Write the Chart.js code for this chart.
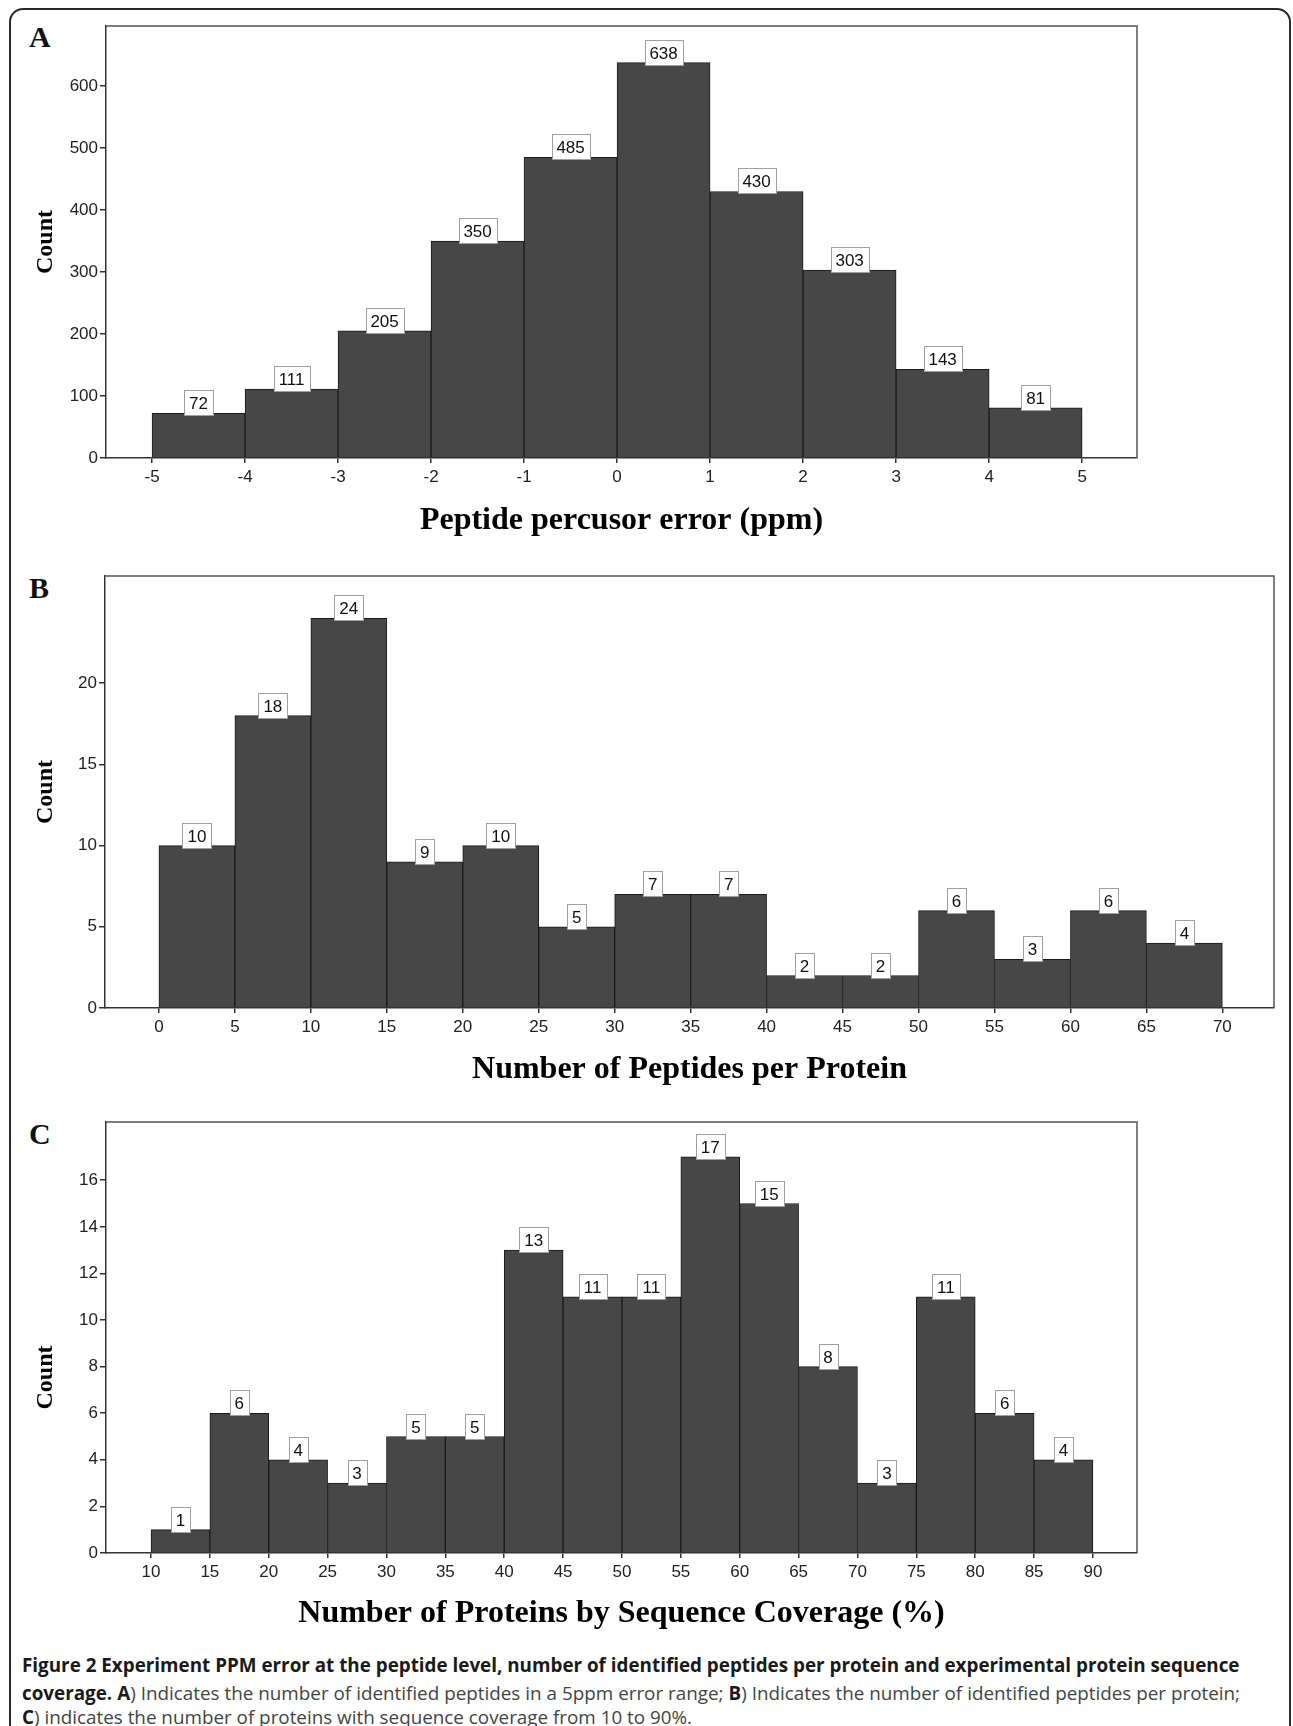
<!DOCTYPE html>
<html lang="en">
<head>
<meta charset="UTF-8">
<title>Figure 2</title>
<script src="https://cdn.jsdelivr.net/npm/chart.js@4.4.0/dist/chart.umd.min.js"></script>
<style>
  body { margin: 0; background: #fff; width: 1293px; height: 1726px; overflow: hidden; position: relative; }
  .frame { position: absolute; left: 9px; top: 8px; width: 1282px; height: 1800px; box-sizing: border-box;
           border: 2px solid #2a2a2a; border-radius: 14px; }
  canvas { position: absolute; left: 0; }
  .letter { position: absolute; left: 29px; font: bold 30px "Liberation Serif", "Times New Roman", serif;
            line-height: 30px; color: #111; }
  .cap { position: absolute; left: 22px; white-space: nowrap; font-family: "Open Sans", sans-serif;
         line-height: 28px; color: #444; }
  .cap b { color: #1a1a1a; font-weight: 700; }
</style>
</head>
<body>
<div class="frame"></div>

<div class="letter" style="top:22px">A</div>
<div class="letter" style="top:573px">B</div>
<div class="letter" style="top:1119px">C</div>

<canvas id="chartA" width="1293" height="550" style="top:0"></canvas>
<canvas id="chartB" width="1293" height="550" style="top:550px"></canvas>
<canvas id="chartC" width="1293" height="550" style="top:1100px"></canvas>

<div class="cap" id="cap1" style="top:1651px"><b>Figure 2 Experiment PPM error at the peptide level, number of identified peptides per protein and experimental protein sequence</b></div>
<div class="cap" id="cap2" style="top:1679px"><b>coverage. A</b>) Indicates the number of identified peptides in a 5ppm error range; <b>B</b>) Indicates the number of identified peptides per protein;</div>
<div class="cap" id="cap3" style="top:1703px"><b>C</b>) indicates the number of proteins with sequence coverage from 10 to 90%.</div>

<script>
// A: peptide precursor error (ppm)
const ppmEdges = [-5, -4, -3, -2, -1, 0, 1, 2, 3, 4, 5];
const ppmCounts = [72, 111, 205, 350, 485, 638, 430, 303, 143, 81];
const ppmYTicks = [0, 100, 200, 300, 400, 500, 600];

// B: peptides per protein
const pepEdges = [0, 5, 10, 15, 20, 25, 30, 35, 40, 45, 50, 55, 60, 65, 70];
const pepCounts = [10, 18, 24, 9, 10, 5, 7, 7, 2, 2, 6, 3, 6, 4];
const pepYTicks = [0, 5, 10, 15, 20];

// C: sequence coverage (%)
const covEdges = [10, 15, 20, 25, 30, 35, 40, 45, 50, 55, 60, 65, 70, 75, 80, 85, 90];
const covCounts = [1, 6, 4, 3, 5, 5, 13, 11, 11, 17, 15, 8, 3, 11, 6, 4];
const covYTicks = [0, 2, 4, 6, 8, 10, 12, 14, 16];

const tickFont = { family: '"Liberation Sans", Arial, sans-serif', size: 17 };
const titleFont = { family: '"Liberation Serif", "Times New Roman", serif', weight: 'bold', lineHeight: 1 };

// white boxes with the count above each bar
const valueBoxes = {
    id: 'valueBoxes',
    afterDatasetsDraw(chart) {
        const ctx = chart.ctx;
        const meta = chart.getDatasetMeta(0);
        ctx.save();
        ctx.font = '17px "Liberation Sans", Arial, sans-serif';
        ctx.textAlign = 'center';
        ctx.textBaseline = 'middle';
        meta.data.forEach((bar, i) => {
            const txt = String(chart.data.datasets[0].data[i].y);
            const w = Math.round(ctx.measureText(txt).width + 10);
            const h = 25;
            const x = Math.round(bar.x - w / 2) + 0.5;
            const y = Math.round(bar.y + 2 - h) + 0.5;
            ctx.fillStyle = '#fff';
            ctx.fillRect(x, y, w, h);
            ctx.strokeStyle = '#a0a0a0';
            ctx.lineWidth = 1;
            ctx.strokeRect(x, y, w, h);
            ctx.fillStyle = '#111';
            ctx.fillText(txt, bar.x, y + h / 2 + 1);
        });
        ctx.restore();
    }
};

// top and right lines of the plot box
const plotFrame = {
    id: 'plotFrame',
    afterDraw(chart) {
        const { ctx, chartArea: a } = chart;
        ctx.save();
        ctx.strokeStyle = '#555';
        ctx.lineWidth = 1.5;
        ctx.beginPath();
        ctx.moveTo(a.left, a.top);
        ctx.lineTo(a.right, a.top);
        ctx.lineTo(a.right, a.bottom);
        ctx.stroke();
        ctx.restore();
    }
};

// rotated "Count" label, centred on the plot with an optional shift
const countTitle = {
    id: 'countTitle',
    afterDraw(chart, args, opts) {
        const { ctx, chartArea: a } = chart;
        ctx.save();
        ctx.translate(46, (a.top + a.bottom) / 2 + (opts.shift || 0));
        ctx.rotate(-Math.PI / 2);
        ctx.font = 'bold 24px "Liberation Serif", "Times New Roman", serif';
        ctx.fillStyle = '#000';
        ctx.textAlign = 'center';
        ctx.textBaseline = 'middle';
        ctx.fillText('Count', 0, 0);
        ctx.restore();
    }
};

function makeHist(id, edges, counts, yTicks, o) {
    const points = counts.map((c, i) => ({ x: (edges[i] + edges[i + 1]) / 2, y: c }));
    return new Chart(document.getElementById(id), {
        type: 'bar',
        data: {
            datasets: [{
                data: points,
                backgroundColor: '#474747',
                borderColor: '#1a1a1a',
                borderWidth: 1,
                barPercentage: 1,
                categoryPercentage: 1
            }]
        },
        options: {
            responsive: false,
            animation: false,
            layout: { padding: { left: 0, top: o.padTop, right: o.padRight, bottom: 0 } },
            plugins: {
                legend: { display: false },
                tooltip: { enabled: false },
                countTitle: { shift: o.countShift || 0 }
            },
            scales: {
                x: {
                    type: 'linear',
                    min: o.xMin,
                    max: o.xMax,
                    offset: false,
                    afterBuildTicks: s => { s.ticks = edges.map(v => ({ value: v })); },
                    afterFit: s => { s.height = o.xAxisH; },
                    grid: { offset: false, drawOnChartArea: false, tickLength: 5, color: '#333', lineWidth: 1.5 },
                    border: { display: true, color: '#333', width: 1.5, z: 1 },
                    ticks: { font: tickFont, color: '#222', padding: 4, maxRotation: 0, autoSkip: false },
                    title: { display: true, text: o.xTitle, font: { ...titleFont, size: 32 }, color: '#000',
                             padding: { top: 0, bottom: o.xTitlePad } }
                },
                y: {
                    min: 0,
                    max: o.yMax,
                    afterBuildTicks: s => { s.ticks = yTicks.map(v => ({ value: v })); },
                    afterFit: s => { s.width = o.yAxisW; },
                    grid: { drawOnChartArea: false, tickLength: 6, color: '#333', lineWidth: 1.5 },
                    border: { display: true, color: '#333', width: 1.5, z: 1 },
                    ticks: { font: tickFont, color: '#222', padding: 2 }
                }
            }
        },
        plugins: [valueBoxes, plotFrame, countTitle]
    });
}

makeHist('chartA', ppmEdges, ppmCounts, ppmYTicks, {
    xMin: -5.495, xMax: 5.59, yMax: 697, padTop: 26, padRight: 156,
    xAxisH: 92, yAxisW: 106, xTitlePad: 13, xTitle: 'Peptide percusor error (ppm)'
});
makeHist('chartB', pepEdges, pepCounts, pepYTicks, {
    xMin: -3.55, xMax: 73.4, yMax: 26.6, padTop: 26, padRight: 19,
    xAxisH: 92, yAxisW: 105, xTitlePad: 14, xTitle: 'Number of Peptides per Protein'
});
makeHist('chartC', covEdges, covCounts, covYTicks, {
    xMin: 6.18, xMax: 93.74, yMax: 18.5, padTop: 22, padRight: 156,
    xAxisH: 97, yAxisW: 106, xTitlePad: 20, countShift: 40,
    xTitle: 'Number of Proteins by Sequence Coverage (%)'
});

// size the caption so its first line spans the figure width
function fitCaption() {
    const target = 1218;
    const caps = ['cap1', 'cap2', 'cap3'].map(id => document.getElementById(id));
    caps.forEach(c => c.style.fontSize = '17px');
    const w = caps[0].getBoundingClientRect().width;
    const size = 17 * target / w;
    caps.forEach(c => c.style.fontSize = size.toFixed(2) + 'px');
    const w2 = caps[1].getBoundingClientRect().width;
    const gaps = caps[1].textContent.split(' ').length - 1;
    if (w2 < target && gaps > 0) caps[1].style.wordSpacing = ((target - w2) / gaps).toFixed(2) + 'px';
}
fitCaption();
</script>
</body>
</html>
